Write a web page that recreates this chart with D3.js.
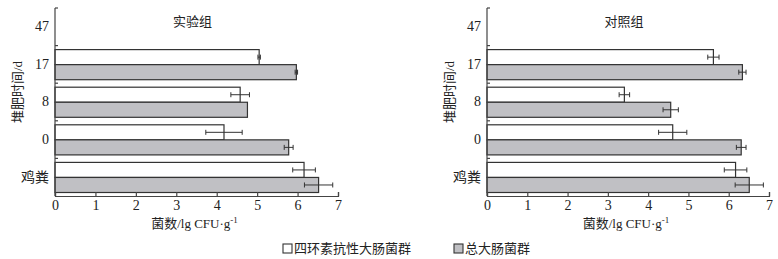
<!DOCTYPE html>
<meta charset="UTF-8">
<style>
  body { margin: 0; background: #fff; }
  text { font-family: "Liberation Serif", "Noto Sans CJK SC", serif; fill: #222; }
  .axis path, .axis line { stroke: #444; stroke-width: 1.2px; }
  .bar { stroke: #333; stroke-width: 1.2px; }
  .err { stroke: #333; stroke-width: 1px; }
</style>
<body>
<script src="https://d3js.org/d3.v7.min.js"></script>
<script>

// days of composting, top to bottom
var categories = ["47", "17", "8", "0", "鸡粪"];
var seriesNames = ["四环素抗性大肠菌群", "总大肠菌群"];
var seriesFill = ["#ffffff", "#c0c0c4"];
var xTicks = [0, 1, 2, 3, 4, 5, 6, 7];

// 实验组
var expTet = [null, 5.05, 4.58, 4.18, 6.16];
var expTetErr = [null, 0.03, 0.23, 0.45, 0.28];
var expTotal = [null, 5.97, 4.76, 5.78, 6.52];
var expTotalErr = [null, 0.03, 0.0, 0.11, 0.35];

// 对照组
var ctlTet = [null, 5.62, 3.41, 4.61, 6.17];
var ctlTetErr = [null, 0.14, 0.13, 0.35, 0.28];
var ctlTotal = [null, 6.34, 4.56, 6.31, 6.51];
var ctlTotalErr = [null, 0.09, 0.19, 0.12, 0.35];

var panels = [
  { title: "实验组", left: 55, right: 338, series: [[expTet, expTetErr], [expTotal, expTotalErr]] },
  { title: "对照组", left: 487, right: 769, series: [[ctlTet, ctlTetErr], [ctlTotal, ctlTotalErr]] }
];

var yTop = 8, yBottom = 196;

var svg = d3.select("body").append("svg")
    .attr("width", 778)
    .attr("height", 259);

panels.forEach(function(p) {
  var g = svg.append("g");

  var x = d3.scaleLinear().domain([0, 7]).range([p.left, p.right]);
  var y = d3.scaleBand().domain(categories).range([yTop, yBottom]);
  var bw = y.bandwidth();
  var ySub = d3.scaleBand().domain([0, 1]).range([4, bw - 3.5]);

  // bars
  p.series.forEach(function(s, si) {
    var vals = s[0], errs = s[1];
    var rows = categories.map(function(c, i) {
      return { cat: c, v: vals[i], e: errs[i] };
    }).filter(function(d) { return d.v != null; });

    g.selectAll(".bar-" + si)
      .data(rows)
      .enter().append("rect")
        .attr("class", "bar")
        .attr("x", x(0))
        .attr("y", function(d) { return y(d.cat) + ySub(si); })
        .attr("width", function(d) { return x(d.v) - x(0); })
        .attr("height", ySub.bandwidth())
        .style("fill", seriesFill[si]);

    // error bars
    var eg = g.selectAll(".err-" + si)
      .data(rows.filter(function(d) { return d.e > 0; }))
      .enter().append("g")
        .attr("class", "err");
    eg.append("line")
      .attr("x1", function(d) { return x(d.v - d.e); })
      .attr("x2", function(d) { return x(d.v + d.e); })
      .attr("y1", function(d) { return y(d.cat) + ySub(si) + ySub.bandwidth() / 2; })
      .attr("y2", function(d) { return y(d.cat) + ySub(si) + ySub.bandwidth() / 2; });
    [-1, 1].forEach(function(sign) {
      eg.append("line")
        .attr("x1", function(d) { return x(d.v + sign * d.e); })
        .attr("x2", function(d) { return x(d.v + sign * d.e); })
        .attr("y1", function(d) { return y(d.cat) + ySub(si) + ySub.bandwidth() / 2 - 2.5; })
        .attr("y2", function(d) { return y(d.cat) + ySub(si) + ySub.bandwidth() / 2 + 2.5; });
    });
  });

  // x axis, ticks pointing up
  g.append("g")
    .attr("class", "axis")
    .attr("transform", "translate(0," + yBottom + ")")
    .call(d3.axisBottom(x).tickValues(xTicks).tickFormat(d3.format("d"))
      .tickSizeInner(-4).tickSizeOuter(-4).tickPadding(4))
    .call(function(a) {
      a.selectAll("text").style("font-size", "14px").style("font-family", "Liberation Serif");
    });

  // y axis: labels at band centres, ticks at band edges
  var ya = g.append("g")
    .attr("class", "axis")
    .attr("transform", "translate(" + p.left + ",0)")
    .call(d3.axisLeft(y).tickSize(0).tickPadding(6));
  ya.selectAll("text").style("font-size", "14px").style("font-family", "Liberation Serif, Noto Sans CJK SC");
  ya.select(".domain").attr("d", "M0," + yTop + "V" + yBottom);
  var edges = categories.map(function(c) { return y(c); });
  ya.selectAll(".edge")
    .data(edges)
    .enter().append("line")
      .attr("x1", 0).attr("x2", 3)
      .attr("y1", function(d) { return d; })
      .attr("y2", function(d) { return d; });

  // title
  g.append("text")
    .attr("x", (p.left + p.right) / 2 - 4)
    .attr("y", 26)
    .attr("text-anchor", "middle")
    .style("font-size", "13px")
    .text(p.title);

  // x label
  var xl = g.append("text")
    .attr("x", (p.left + p.right) / 2 - 2)
    .attr("y", 228)
    .attr("text-anchor", "middle")
    .style("font-size", "13px")
    .text("菌数/lg CFU·g");
  xl.append("tspan")
    .attr("dy", "-5")
    .style("font-size", "9px")
    .text("-1");

  // y label
  g.append("text")
    .attr("transform", "translate(" + (p.left - 33) + ",92) rotate(-90)")
    .attr("text-anchor", "middle")
    .style("font-size", "13px")
    .text("堆肥时间/d");
});

// legend
var legendX = [283, 454];
var lg = svg.selectAll(".legend")
  .data(seriesNames)
  .enter().append("g")
    .attr("transform", function(d, i) { return "translate(" + legendX[i] + ",244)"; });
lg.append("rect")
  .attr("width", 9).attr("height", 9)
  .style("fill", function(d, i) { return seriesFill[i]; })
  .style("stroke", "#333").style("stroke-width", 1.1);
lg.append("text")
  .attr("x", 11).attr("y", 9)
  .style("font-size", "13px")
  .text(function(d) { return d; });

</script>
</body>
